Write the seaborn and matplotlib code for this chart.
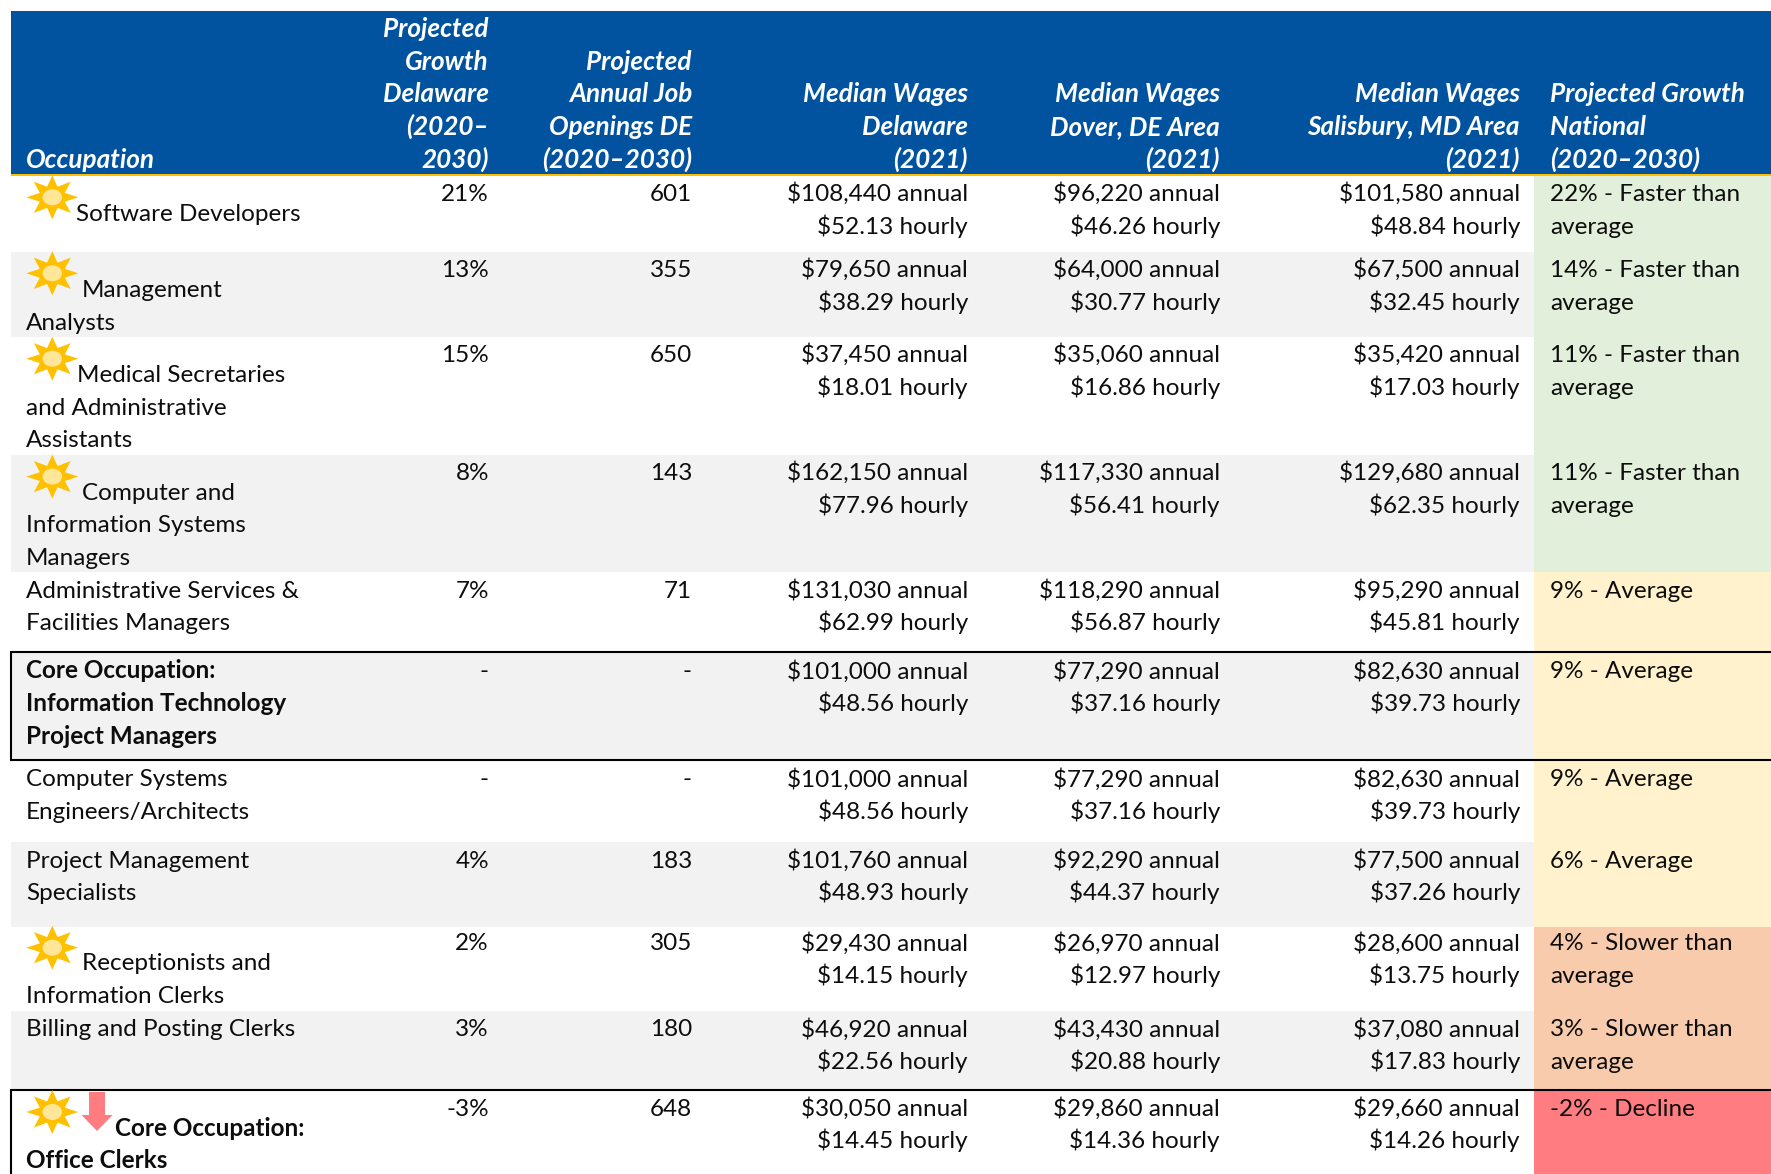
import numpy as np
import matplotlib
matplotlib.use("Agg")
import matplotlib.pyplot as plt
from matplotlib.patches import Polygon, Ellipse
import seaborn as sns

# ---- data ----
occupation_lines = [
    ["Software Developers"],
    ["Management", "Analysts"],
    ["Medical Secretaries", "and Administrative", "Assistants"],
    ["Computer and", "Information Systems", "Managers"],
    ["Administrative Services &", "Facilities Managers"],
    ["Core Occupation:", "Information Technology", "Project Managers"],
    ["Computer Systems", "Engineers/Architects"],
    ["Project Management", "Specialists"],
    ["Receptionists and", "Information Clerks"],
    ["Billing and Posting Clerks"],
    ["Core Occupation:", "Office Clerks"],
]
growth_de = ["21%", "13%", "15%", "8%", "7%", "-", "-", "4%", "2%", "3%", "-3%"]
openings_de = ["601", "355", "650", "143", "71", "-", "-", "183", "305", "180", "648"]
annual_de = [108440, 79650, 37450, 162150, 131030, 101000, 101000, 101760, 29430, 46920, 30050]
hourly_de = [52.13, 38.29, 18.01, 77.96, 62.99, 48.56, 48.56, 48.93, 14.15, 22.56, 14.45]
annual_dover = [96220, 64000, 35060, 117330, 118290, 77290, 77290, 92290, 26970, 43430, 29860]
hourly_dover = [46.26, 30.77, 16.86, 56.41, 56.87, 37.16, 37.16, 44.37, 12.97, 20.88, 14.36]
annual_salis = [101580, 67500, 35420, 129680, 95290, 82630, 82630, 77500, 28600, 37080, 29660]
hourly_salis = [48.84, 32.45, 17.03, 62.35, 45.81, 39.73, 39.73, 37.26, 13.75, 17.83, 14.26]
national_lines = [
    ["22% - Faster than", "average"], ["14% - Faster than", "average"],
    ["11% - Faster than", "average"], ["11% - Faster than", "average"],
    ["9% - Average"], ["9% - Average"], ["9% - Average"], ["6% - Average"],
    ["4% - Slower than", "average"], ["3% - Slower than", "average"], ["-2% - Decline"],
]
national_class = ["fast", "fast", "fast", "fast", "avg", "avg", "avg", "avg", "slow", "slow", "decl"]
bold_rows = [5, 10]
sun_rows = [0, 1, 2, 3, 8, 10]
header_col0 = ["Occupation"]
header_right = [
    ["Projected", "Growth", "Delaware", "(2020–", "2030)"],
    ["Projected", "Annual Job", "Openings DE", "(2020–2030)"],
    ["Median Wages", "Delaware", "(2021)"],
    ["Median Wages", "Dover, DE Area", "(2021)"],
    ["Median Wages", "Salisbury, MD Area", "(2021)"],
]
header_national = ["Projected Growth", "National", "(2020–2030)"]

# ---- layout (pixels) ----
W, H = 1771, 1174
row_edges = [176, 252, 337, 455, 572, 652, 760, 842, 927, 1011, 1090, 1174]
first_base = [201, 277, 362, 480, 597.5, 678.5, 786.5, 867.5, 950.5, 1036.5, 1115.5]
occ_base = [221, 297, 382, 499.5, 597.5, 678.5, 786.5, 867.5, 970.5, 1036.5, 1135.5]
occ_x = [76.5, 82, 77, 82, 26, 26, 26, 26, 82.5, 26, 115]
sun_y = {0: 197.3, 1: 273.3, 2: 358.7, 3: 476.6, 8: 947.7, 10: 1112}
col_right = [489, 692, 968, 1220, 1520]
col_nat = 1550
nat_left = 1534
left = 11
LH = 32.6
FS = 17.45

sns.set_theme(style="white")
plt.rcParams["font.family"] = ["Lato", "DejaVu Sans"]
fill = dict(fast="#E2EFDA", avg="#FFF2CC", slow="#F8CBAD", decl="#FF7C80")
HEAD, GOLD, GRAY = "#01539F", "#FFC000", "#F2F2F2"

fig = plt.figure(figsize=(W / 100, H / 100), dpi=100, facecolor="white")
ax = fig.add_axes([0, 0, 1, 1])
ax.set_xlim(0, W)
ax.set_ylim(H, 0)
ax.axis("off")
sns.despine(ax=ax, left=True, bottom=True)

# header
ax.barh(92.5, W - left, 163, left=left, color=HEAD, lw=0)
ax.barh(175, W - left, 2.4, left=left, color=GOLD, lw=0, zorder=3)

# rows
for i in range(11):
    top, bot = row_edges[i], row_edges[i + 1]
    if i % 2 == 1:
        ax.barh((top + bot) / 2, nat_left - left, bot - top, left=left, color=GRAY, lw=0)
    ax.barh((top + bot) / 2, W - nat_left, bot - top, left=nat_left,
            color=fill[national_class[i]], lw=0)

# boxes
for y in (652, 760, 1090):
    ax.plot([left - 0.5, W], [y, y], color="black", lw=1.5, zorder=4, solid_capstyle="butt")
for y0, y1 in ((652, 760), (1090, H)):
    ax.plot([left - 0.3, left - 0.3], [y0, y1], color="black", lw=1.5, zorder=4, solid_capstyle="butt")


def sun(cx, cy):
    ang = np.arange(16) * np.pi / 8
    r = np.where(np.arange(16) % 2 == 0, 1.0, 0.52)
    ax.add_patch(Polygon(np.c_[cx + 26 * r * np.sin(ang), cy - 22 * r * np.cos(ang)],
                         closed=True, fc=GOLD, ec="none", zorder=5))
    ax.add_patch(Ellipse((cx, cy), 19.5, 16, fc="#FFE699", ec="none", zorder=6))


for i in sun_rows:
    sun(52.3, sun_y[i])

# arrow on last row
ax.add_patch(Polygon([(89, 1092), (105, 1092), (105, 1115), (112.5, 1115), (97, 1131),
                      (81.5, 1115), (89, 1115)], closed=True, fc="#FF7C80", ec="none", zorder=5))


def txt(x, y, s, **kw):
    ax.text(x, y, s, fontsize=kw.pop("fontsize", FS), va="baseline", color=kw.pop("color", "#0d0d0d"),
            zorder=7, **kw)


# header text
HB = 167.5
hk = dict(color="white", fontweight="bold", fontstyle="italic", fontsize=18.8)
txt(26, HB, header_col0[0], **hk)
for x, lines in zip(col_right, header_right):
    for k, s in enumerate(reversed(lines)):
        txt(x, HB - k * LH, s, ha="right", **hk)
for k, s in enumerate(reversed(header_national)):
    txt(col_nat, HB - k * LH, s, **hk)

# body text
for i in range(11):
    weight = "bold" if i in bold_rows else "normal"
    for k, s in enumerate(occupation_lines[i]):
        x = occ_x[i] if k == 0 else 26
        txt(x, occ_base[i] + k * LH, s, fontweight=weight)
    y = first_base[i]
    txt(col_right[0], y, growth_de[i], ha="right")
    txt(col_right[1], y, openings_de[i], ha="right")
    for x, a, h in zip(col_right[2:], (annual_de, annual_dover, annual_salis),
                       (hourly_de, hourly_dover, hourly_salis)):
        txt(x, y, f"${a[i]:,} annual", ha="right")
        txt(x, y + LH, f"${h[i]:.2f} hourly", ha="right")
    for k, s in enumerate(national_lines[i]):
        txt(col_nat, y + k * LH, s)

fig.savefig("out.png", dpi=100, facecolor="white")
